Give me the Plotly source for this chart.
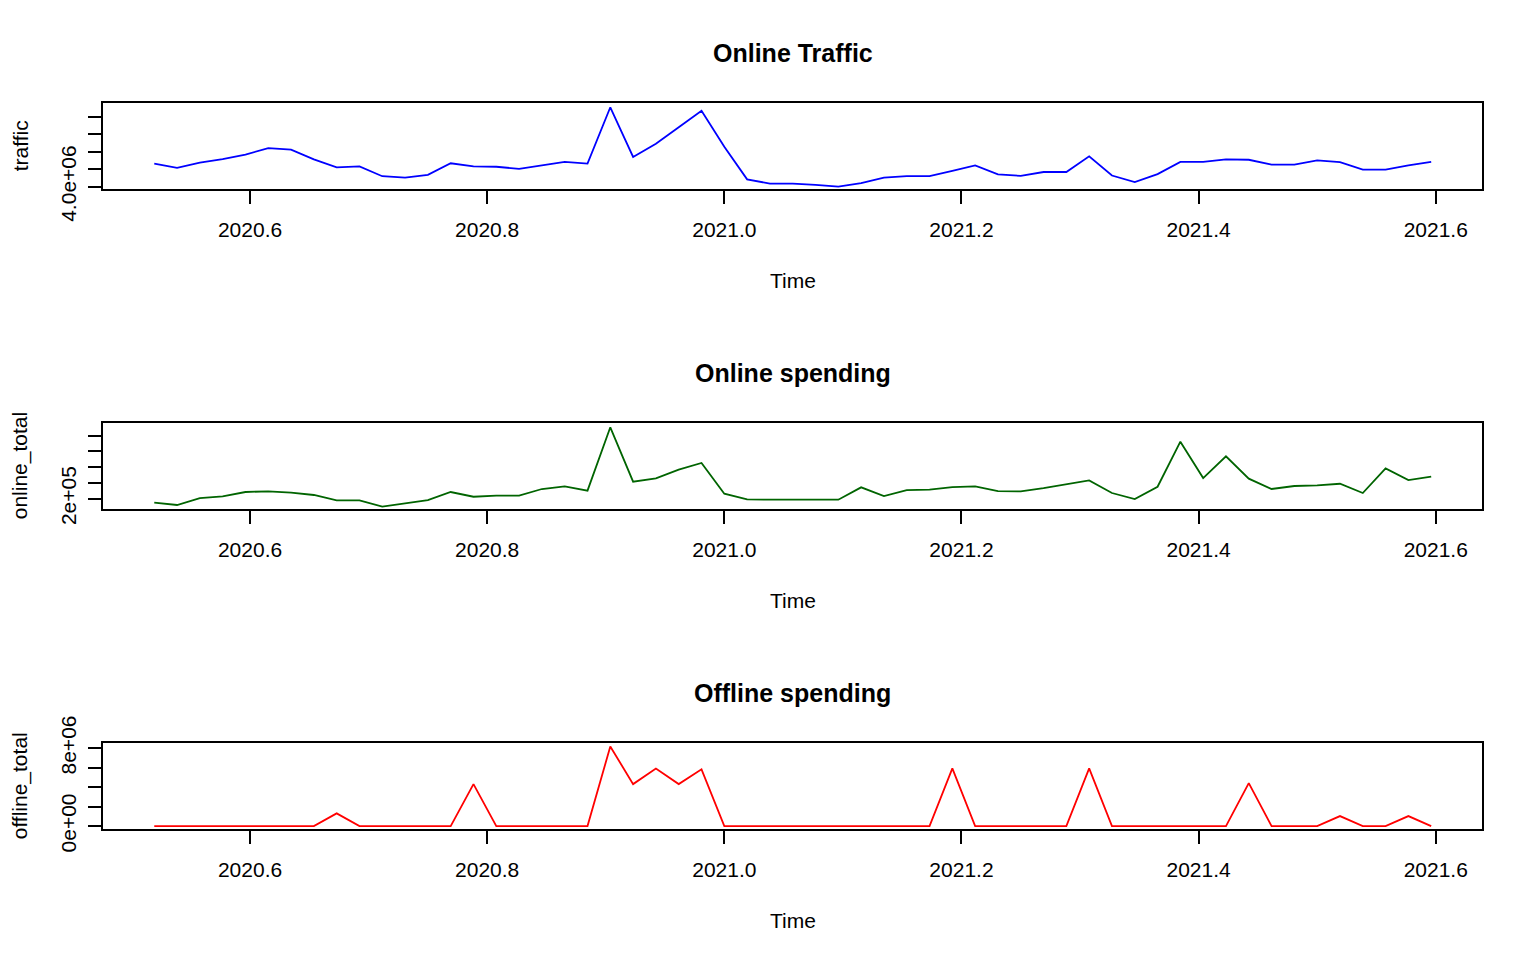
import plotly.graph_objects as go

# weekly series, start = week 28 of 2020, frequency 52
START_YEAR = 2020
START_WEEK = 28
FREQUENCY = 52

traffic = [
    4.66e6, 4.54e6, 4.69e6, 4.79e6, 4.92e6, 5.10e6, 5.06e6, 4.78e6, 4.55e6, 4.58e6,
    4.30e6, 4.26e6, 4.34e6, 4.67e6, 4.58e6, 4.57e6, 4.51e6, 4.61e6, 4.71e6, 4.66e6,
    6.27e6, 4.85e6, 5.23e6, 5.70e6, 6.17e6, 5.14e6, 4.21e6, 4.09e6, 4.09e6, 4.05e6,
    4.00e6, 4.10e6, 4.26e6, 4.30e6, 4.30e6, 4.45e6, 4.61e6, 4.35e6, 4.31e6, 4.42e6,
    4.42e6, 4.87e6, 4.32e6, 4.13e6, 4.36e6, 4.71e6, 4.71e6, 4.78e6, 4.77e6, 4.63e6,
    4.63e6, 4.75e6, 4.70e6, 4.49e6, 4.49e6, 4.61e6, 4.71e6,
]

online_total = [
    1.49e5, 1.20e5, 2.08e5, 2.30e5, 2.85e5, 2.93e5, 2.76e5, 2.47e5, 1.79e5, 1.79e5,
    1.00e5, 1.45e5, 1.83e5, 2.85e5, 2.25e5, 2.38e5, 2.38e5, 3.23e5, 3.57e5, 3.02e5,
    11.06e5, 4.16e5, 4.58e5, 5.68e5, 6.53e5, 2.63e5, 1.92e5, 1.87e5, 1.87e5, 1.87e5,
    1.87e5, 3.44e5, 2.34e5, 3.10e5, 3.14e5, 3.48e5, 3.57e5, 2.97e5, 2.93e5, 3.35e5,
    3.86e5, 4.33e5, 2.72e5, 1.96e5, 3.52e5, 9.24e5, 4.62e5, 7.38e5, 4.54e5, 3.23e5,
    3.61e5, 3.69e5, 3.90e5, 2.72e5, 5.85e5, 4.37e5, 4.79e5,
]

offline_total = [
    0, 0, 0, 0, 0, 0, 0, 0, 1.31e6, 0,
    0, 0, 0, 0, 4.31e6, 0, 0, 0, 0, 0,
    8.17e6, 4.31e6, 5.90e6, 4.31e6, 5.83e6, 0, 0, 0, 0, 0,
    0, 0, 0, 0, 0, 5.93e6, 0, 0, 0, 0,
    0, 5.93e6, 0, 0, 0, 0, 0, 0, 4.41e6, 0,
    0, 0, 1.03e6, 0, 0, 1.03e6, 0,
]

x_ticks = [2020.6, 2020.8, 2021.0, 2021.2, 2021.4, 2021.6]
x_tick_labels = ["2020.6", "2020.8", "2021.0", "2021.2", "2021.4", "2021.6"]

traffic_ticks = [4.0e6, 4.5e6, 5.0e6, 5.5e6, 6.0e6]
traffic_tick_labels = ["4.0e+06", "", "", "", ""]
online_ticks = [2e5, 4e5, 6e5, 8e5, 1e6]
online_tick_labels = ["2e+05", "", "", "", ""]
offline_ticks = [0, 2e6, 4e6, 6e6, 8e6]
offline_tick_labels = ["0e+00", "", "", "", "8e+06"]

# page body has an 8px margin, so the figure is drawn a bit smaller and positions are shifted
PAGE_MARGIN = 8
W, H = 1536 - 2 * PAGE_MARGIN, 960 - 2 * PAGE_MARGIN
FONT = "Liberation Sans, Arial, sans-serif"


def px_x(v):
    return (v - PAGE_MARGIN) / W


def px_y(v):
    return 1 - (v - PAGE_MARGIN) / H


# time index like R's ts()
time = [START_YEAR + (START_WEEK - 1 + i) / FREQUENCY for i in range(len(traffic))]

panels = [
    dict(title="Online Traffic", ylab="traffic", y=traffic, color="#0000FF",
         ticks=traffic_ticks, labels=traffic_tick_labels, yrange=[3.926e6, 6.383e6], top=103.3),
    dict(title="Online spending", ylab="online_total", y=online_total, color="#006400",
         ticks=online_ticks, labels=online_tick_labels, yrange=[0.654e5, 1.157e6], top=423.3),
    dict(title="Offline spending", ylab="offline_total", y=offline_total, color="#FF0000",
         ticks=offline_ticks, labels=offline_tick_labels, yrange=[-0.327e6, 8.497e6], top=743.3),
]

BOX_LEFT, BOX_RIGHT, BOX_H = 103, 1482, 86

fig = go.Figure()
annotations = []
layout = {}

for k, p in enumerate(panels, start=1):
    xa = "x" if k == 1 else f"x{k}"
    ya = "y" if k == 1 else f"y{k}"
    fig.add_trace(go.Scatter(
        x=time, y=p["y"], mode="lines",
        line=dict(color=p["color"], width=1.8),
        xaxis=xa, yaxis=ya, showlegend=False,
    ))

    top, bottom = p["top"], p["top"] + BOX_H
    common = dict(
        showline=True, mirror=True, linecolor="black", linewidth=2,
        ticks="outside", ticklen=13, tickwidth=2, tickcolor="black",
        showgrid=False, zeroline=False, automargin=False,
        tickfont=dict(family=FONT, size=21, color="black"),
    )
    layout[f"xaxis{k if k > 1 else ''}"] = dict(
        common, domain=[px_x(BOX_LEFT), px_x(BOX_RIGHT)], anchor=ya,
        range=[2020.476, 2021.639], tickvals=x_ticks, ticktext=x_tick_labels,
        ticklabelstandoff=7,
    )
    layout[f"yaxis{k if k > 1 else ''}"] = dict(
        common, domain=[px_y(bottom), px_y(top)], anchor=xa,
        range=p["yrange"], tickvals=p["ticks"], ticktext=p["labels"],
        tickangle=-90, ticklabelstandoff=4,
    )

    mid = (top + bottom) / 2
    center_x = px_x((BOX_LEFT + BOX_RIGHT) / 2)
    annotations.append(dict(
        text=f"<b>{p['title']}</b>", x=center_x, y=px_y(top - 50),
        xref="paper", yref="paper", showarrow=False, xanchor="center", yanchor="middle",
        font=dict(family=FONT, size=25, color="black"),
    ))
    annotations.append(dict(
        text="Time", x=center_x, y=px_y(bottom + 91),
        xref="paper", yref="paper", showarrow=False, xanchor="center", yanchor="middle",
        font=dict(family=FONT, size=21, color="black"),
    ))
    annotations.append(dict(
        text=p["ylab"], x=px_x(20), y=px_y(mid), textangle=-90, borderpad=0,
        xref="paper", yref="paper", showarrow=False, xanchor="center", yanchor="middle",
        font=dict(family=FONT, size=21, color="black"),
    ))

fig.update_layout(
    width=W, height=H,
    margin=dict(l=0, r=0, t=0, b=0),
    paper_bgcolor="white", plot_bgcolor="white",
    annotations=annotations,
    **layout,
)

fig.write_html("out.html")
